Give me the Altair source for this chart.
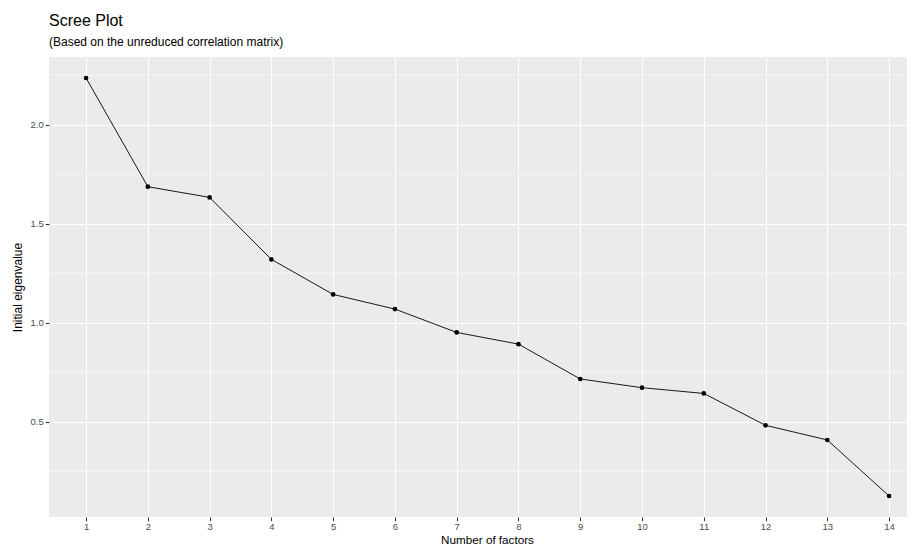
import altair as alt
import pandas as pd

factors = list(range(1, 15))
eigenvalues = [2.235, 1.686, 1.632, 1.319, 1.142, 1.068, 0.950, 0.891,
               0.715, 0.671, 0.642, 0.481, 0.407, 0.124]
y_major = [0.5, 1.0, 1.5, 2.0]
y_minor = [0.25, 0.75, 1.25, 1.75, 2.25]

df = pd.DataFrame({"factor": factors, "eigen": eigenvalues})
minor_df = pd.DataFrame({"v": y_minor})

FONT = "Liberation Sans"

x_scale = alt.Scale(domain=[0.4, 14.29], nice=False, zero=False)
y_scale = alt.Scale(domain=[0.018, 2.341], nice=False, zero=False)

x_axis = alt.Axis(
    values=factors, format="d", title="Number of factors",
    grid=True, gridColor="white", gridWidth=1.07,
    domain=False, ticks=True, tickColor="#333333", tickSize=3.7, tickWidth=1.07,
    labelColor="#4D4D4D", labelFontSize=9.5, labelFont=FONT, labelPadding=1,
    titleFont=FONT, titleFontSize=11.7, titleColor="black", titleFontWeight="normal",
    titleX=438, titleY=26.3, titleAlign="center", titleBaseline="alphabetic",
)
y_axis = alt.Axis(
    values=y_major, format=".1f", title="Initial eigenvalue",
    grid=True, gridColor="white", gridWidth=1.07,
    domain=False, ticks=True, tickColor="#333333", tickSize=3.7, tickWidth=1.07,
    labelColor="#4D4D4D", labelFontSize=9.5, labelFont=FONT, labelPadding=2,
    titleFont=FONT, titleFontSize=12, titleColor="black", titleFontWeight="normal",
    titleX=-28, titleY=230, titleAngle=270, titleAlign="center",
    titleBaseline="alphabetic",
)

minor = alt.Chart(minor_df).mark_rule(color="white", strokeWidth=0.55).encode(
    y=alt.Y("v:Q", scale=y_scale, axis=y_axis)
)

line = alt.Chart(df).mark_line(color="black", strokeWidth=0.9).encode(
    x=alt.X("factor:Q", scale=x_scale, axis=x_axis),
    y=alt.Y("eigen:Q", scale=y_scale, axis=y_axis),
)
points = alt.Chart(df).mark_circle(color="black", size=22, opacity=1).encode(
    x=alt.X("factor:Q", scale=x_scale, axis=x_axis),
    y=alt.Y("eigen:Q", scale=y_scale, axis=y_axis),
)

chart = alt.layer(minor, line, points).properties(
    width=858,
    height=460,
    background="white",
    autosize=alt.AutoSizeParams(type="none"),
    padding={"left": 41, "top": 49, "right": 0, "bottom": 29},
    title=alt.TitleParams(
        text="Scree Plot",
        subtitle="(Based on the unreduced correlation matrix)",
        anchor="start", frame="group",
        font=FONT, fontSize=16, fontWeight="normal", color="black",
        subtitleFont=FONT, subtitleFontSize=12, subtitleColor="black",
        offset=9, subtitlePadding=8,
    ),
).configure_view(
    fill="#EBEBEB", strokeWidth=0, stroke="transparent"
)

chart.save("out.html", embed_options={"renderer": "svg", "actions": False})
